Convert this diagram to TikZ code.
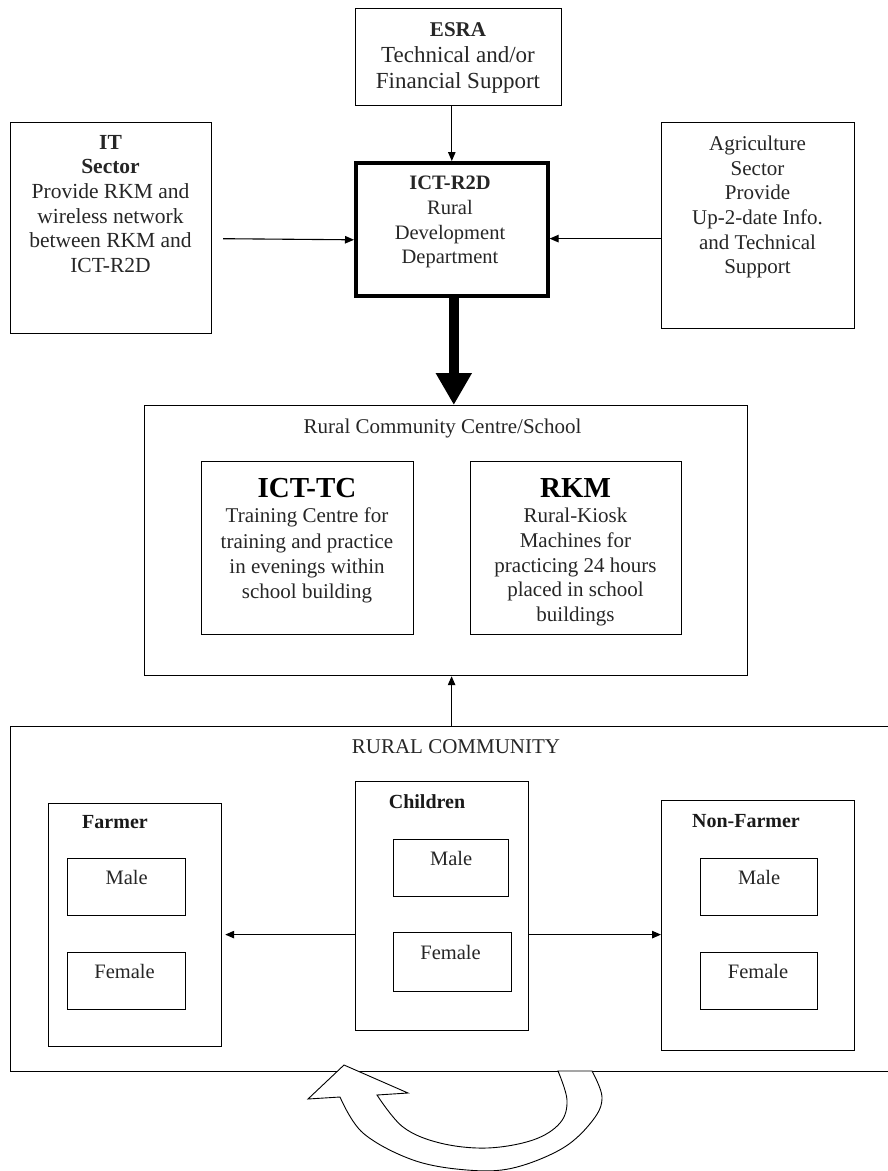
\documentclass[tikz,border=0pt]{standalone}
\usepackage{fontspec}
\setmainfont{Liberation Serif}
\usetikzlibrary{arrows.meta,calc}

\begin{document}
\begin{tikzpicture}[x=1pt,y=-1pt,
  box/.style={draw, line width=1.2pt, inner sep=0, anchor=north west},
  heavybox/.style={box, line width=3.6pt},
  txt/.style={inner sep=0, align=center, text=black!85, font=\fontsize{21}{24.6}\selectfont},
  gtitle/.style={inner sep=0, anchor=base, text=black!90, font=\fontsize{20}{24}\selectfont\bfseries},
  sex/.style={inner sep=0, anchor=base, text=black!85, font=\fontsize{20.5}{24}\selectfont},
  arr/.style={line width=1.1pt, -{Triangle[length=9pt,width=7.5pt]}},
  bigarr/.style={line width=10pt, -{Triangle[length=32pt,width=34pt]}},
]
\useasboundingbox (0,0) rectangle (888,1171);

% ---- upper row ----
\node[box, minimum width=206pt, minimum height=97pt] (esra) at (355,8) {};
\node[box, minimum width=201pt, minimum height=211pt] (it) at (10,122) {};
\node[heavybox, minimum width=192pt, minimum height=133pt] (r2d) at (354,161) {};
\node[box, minimum width=193pt, minimum height=206pt] (agri) at (661,122) {};

\node[txt, anchor=north, font=\fontsize{23}{26}\selectfont] (esratxt) at (458,22)
  {\textbf{\fontsize{21}{26}\selectfont ESRA}\\Technical and/or\\Financial Support};
\node[txt, anchor=north, font=\fontsize{21.5}{24.6}\selectfont] (ittxt) at (110.5,135)
  {\textbf{IT}\\\textbf{Sector}\\Provide RKM and\\wireless network\\between RKM and\\ICT-R2D};
\node[txt, anchor=north, font=\fontsize{20.5}{24.7}\selectfont] (r2dtxt) at (450,176)
  {\textbf{ICT-R2D}\\Rural\\Development\\Department};
\node[txt, anchor=north, font=\fontsize{21}{24.6}\selectfont] (agritxt) at (757.5,136)
  {Agriculture\\Sector\\Provide\\Up-2-date Info.\\and Technical\\Support};

% ---- community centre / school ----
\node[box, minimum width=603pt, minimum height=270pt] (centre) at (144,405) {};
\node[txt, anchor=base] (centretxt) at (442.5,433) {Rural Community Centre/School};
\node[box, minimum width=212pt, minimum height=173pt] (tc) at (201,461) {};
\node[box, minimum width=211pt, minimum height=173pt] (rkm) at (470,461) {};
\node[txt, anchor=base, font=\fontsize{29}{30}\selectfont\bfseries, text=black] (tctitle) at (307,497) {ICT-TC};
\node[txt, anchor=north, font=\fontsize{21}{25.2}\selectfont] (tctxt) at (307,508)
  {Training Centre for\\training and practice\\in evenings within\\school building};
\node[txt, anchor=base, font=\fontsize{29}{30}\selectfont\bfseries, text=black] (rkmtitle) at (575.5,497) {RKM};
\node[txt, anchor=north, font=\fontsize{21}{24.7}\selectfont] (rkmtxt) at (575.5,508)
  {Rural-Kiosk\\Machines for\\practicing 24 hours\\placed in school\\buildings};

% ---- rural community ----
\node[box, minimum width=882pt, minimum height=345pt] (rural) at (10,726) {};
\node[txt, anchor=base] (ruraltxt) at (456,753) {RURAL COMMUNITY};

\node[box, minimum width=173pt, minimum height=243pt] (farmer) at (48,803) {};
\node[gtitle] (farmertxt) at (115,828) {Farmer};
\node[box, minimum width=118pt, minimum height=57pt] (fmale) at (67,858) {};
\node[box, minimum width=118pt, minimum height=57pt] (ffemale) at (67,952) {};
\node[sex] (fmaletxt) at ($(fmale.north)+(0,26.5)$) {Male};
\node[sex] (ffemaletxt) at ($(ffemale.north)+(-2,26.5)$) {Female};

\node[box, minimum width=173pt, minimum height=249pt] (children) at (355,781) {};
\node[gtitle] (childrentxt) at (427,808) {Children};
\node[box, minimum width=115pt, minimum height=57pt] (cmale) at (393,839) {};
\node[box, minimum width=118pt, minimum height=59pt] (cfemale) at (393,932) {};
\node[sex] (cmaletxt) at ($(cmale.north)+(0,26.5)$) {Male};
\node[sex] (cfemaletxt) at ($(cfemale.north)+(-2,27)$) {Female};

\node[box, minimum width=193pt, minimum height=250pt] (nonf) at (661,800) {};
\node[gtitle] (nonftxt) at (746,827) {Non-Farmer};
\node[box, minimum width=117pt, minimum height=57pt] (nmale) at (700,858) {};
\node[box, minimum width=117pt, minimum height=57pt] (nfemale) at (700,952) {};
\node[sex] (nmaletxt) at ($(nmale.north)+(0,26.5)$) {Male};
\node[sex] (nfemaletxt) at ($(nfemale.north)+(-1,26.5)$) {Female};

% ---- connectors ----
\draw[arr] (r2d.north |- esra.south) -- (r2d.north);
\draw[arr, shorten <=11pt] ([yshift=-10.5pt]it.east) -- ([yshift=-10.5pt]r2d.west);
\draw[arr] ([yshift=-13pt]agri.west) -- ([yshift=-13pt]agri.west -| r2d.east);
\draw[bigarr] ([xshift=2pt]r2d.south) -- ([xshift=2pt]r2d.south |- centre.north);
\draw[arr] (rural.north) -- (rural.north |- centre.south);
\draw[arr, shorten >=3pt] ([yshift=-28.5pt]children.west) -- ([yshift=-28.5pt]children.west -| farmer.east);
\draw[arr] ([yshift=-28.5pt]children.east) -- ([yshift=-28.5pt]children.east -| nonf.west);

% ---- open curved arrow below the community ----
\draw[line width=0.9pt, fill=white, line join=miter]
  plot[smooth, tension=0.6] coordinates {(592,1071) (602,1097) (593,1120) (563,1148) (513,1168) (467,1170) (413,1160) (363,1133) (340,1097)}
  -- (308,1099) -- (344,1065) -- (408,1093) -- (377,1095)
  -- plot[smooth, tension=0.6] coordinates {(377,1095) (403,1127) (440,1143) (487,1148) (533,1140) (560,1123) (567,1100) (558,1071)}
  -- cycle;
\end{tikzpicture}
\end{document}
